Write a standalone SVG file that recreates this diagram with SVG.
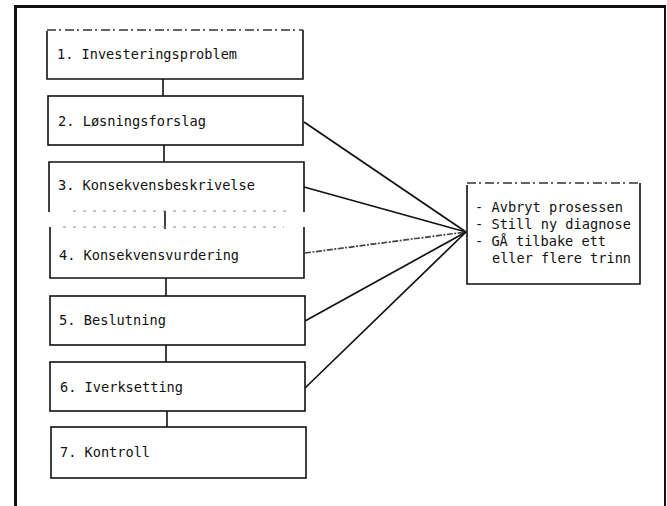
<svg xmlns="http://www.w3.org/2000/svg" width="667" height="506" viewBox="0 0 667 506">
  <style>
    .box { fill: #ffffff; stroke: #111111; stroke-width: 1.6; }
    .edge { fill: none; stroke: #111111; stroke-width: 1.6; }
    .faint { fill: none; stroke: #888888; stroke-width: 1.1; stroke-dasharray: 3 7; }
    .dash { fill: none; stroke: #333333; stroke-width: 1.3; stroke-dasharray: 9 3 2 4; }
    .lbl { font-family: "DejaVu Sans Mono", "Liberation Mono", monospace; font-size: 14.5px; fill: #111111; }
    .note { font-family: "DejaVu Sans Mono", "Liberation Mono", monospace; font-size: 14px; fill: #111111; }
    .link { fill: none; stroke: #111111; stroke-width: 1.7; }
    .link-soft { fill: none; stroke: #444444; stroke-width: 1.7; stroke-dasharray: 6 1.5 2 1.5; }
  </style>

  <rect width="667" height="506" fill="#ffffff"/>

  <!-- page frame -->
  <g id="frame">
    <line x1="15.5" y1="5" x2="15.5" y2="506" stroke="#111111" stroke-width="3"/>
    <line x1="14" y1="6.5" x2="666" y2="6.5" stroke="#111111" stroke-width="3"/>
    <line x1="665" y1="5" x2="665" y2="506" stroke="#111111" stroke-width="2"/>
  </g>

  <!-- connectors -->
  <g id="connectors">
    <line class="edge" x1="163" y1="79" x2="163" y2="96"/>
    <line class="edge" x1="164" y1="145" x2="164" y2="162"/>
    <line class="edge" x1="165" y1="211" x2="165" y2="229"/>
    <line class="edge" x1="166" y1="278" x2="166" y2="296"/>
    <line class="edge" x1="166" y1="345" x2="166" y2="362"/>
    <line class="edge" x1="167" y1="411" x2="167" y2="427"/>

    <line class="link" x1="304" y1="122" x2="466" y2="232"/>
    <line class="link" x1="304" y1="187" x2="466" y2="232"/>
    <line class="link-soft" x1="305" y1="253" x2="466" y2="232"/>
    <line class="link" x1="305" y1="321" x2="466" y2="232"/>
    <line class="link" x1="305" y1="388" x2="466" y2="232"/>
  </g>

  <!-- step 1 -->
  <g id="step1">
    <path class="edge" d="M47 31 V79 H303 V30"/>
    <line class="dash" x1="47" y1="30" x2="303" y2="30"/>
    <text class="lbl" x="57" y="59" textLength="180" lengthAdjust="spacingAndGlyphs">1. Investeringsproblem</text>
  </g>

  <!-- step 2 -->
  <g id="step2">
    <rect class="box" x="48" y="96" width="255" height="49"/>
    <text class="lbl" x="58" y="126" textLength="148" lengthAdjust="spacingAndGlyphs">2. Løsningsforslag</text>
  </g>

  <!-- step 3 (open at the bottom) -->
  <g id="step3">
    <path class="edge" d="M49 212 V162 H304 V212"/>
    <line class="faint" x1="73" y1="211" x2="288" y2="211"/>
    <text class="lbl" x="58" y="190" textLength="197" lengthAdjust="spacingAndGlyphs">3. Konsekvensbeskrivelse</text>
  </g>

  <!-- step 4 (open at the top) -->
  <g id="step4">
    <path class="edge" d="M50 227 V278 H304 V227"/>
    <line class="faint" x1="63" y1="227" x2="284" y2="227"/>
    <text class="lbl" x="59" y="260" textLength="180" lengthAdjust="spacingAndGlyphs">4. Konsekvensvurdering</text>
  </g>

  <!-- step 5 -->
  <g id="step5">
    <rect class="box" x="50" y="296" width="255" height="49"/>
    <text class="lbl" x="59" y="325" textLength="107" lengthAdjust="spacingAndGlyphs">5. Beslutning</text>
  </g>

  <!-- step 6 -->
  <g id="step6">
    <rect class="box" x="50" y="362" width="255" height="49"/>
    <text class="lbl" x="60" y="392" textLength="123" lengthAdjust="spacingAndGlyphs">6. Iverksetting</text>
  </g>

  <!-- step 7 -->
  <g id="step7">
    <rect class="box" x="51" y="427" width="255" height="51"/>
    <text class="lbl" x="60" y="457" textLength="90" lengthAdjust="spacingAndGlyphs">7. Kontroll</text>
  </g>

  <!-- options box -->
  <g id="options">
    <path class="edge" d="M467 185 V284 H640 V183"/>
    <line class="dash" x1="467" y1="183" x2="640" y2="183"/>
    <text class="note" x="475" y="212" textLength="148" lengthAdjust="spacingAndGlyphs">- Avbryt prosessen</text>
    <text class="note" x="475" y="229" textLength="156" lengthAdjust="spacingAndGlyphs">- Still ny diagnose</text>
    <text class="note" x="475" y="246" textLength="131" lengthAdjust="spacingAndGlyphs">- GÅ tilbake ett</text>
    <text class="note" x="492" y="263" textLength="139" lengthAdjust="spacingAndGlyphs">eller flere trinn</text>
  </g>
</svg>
